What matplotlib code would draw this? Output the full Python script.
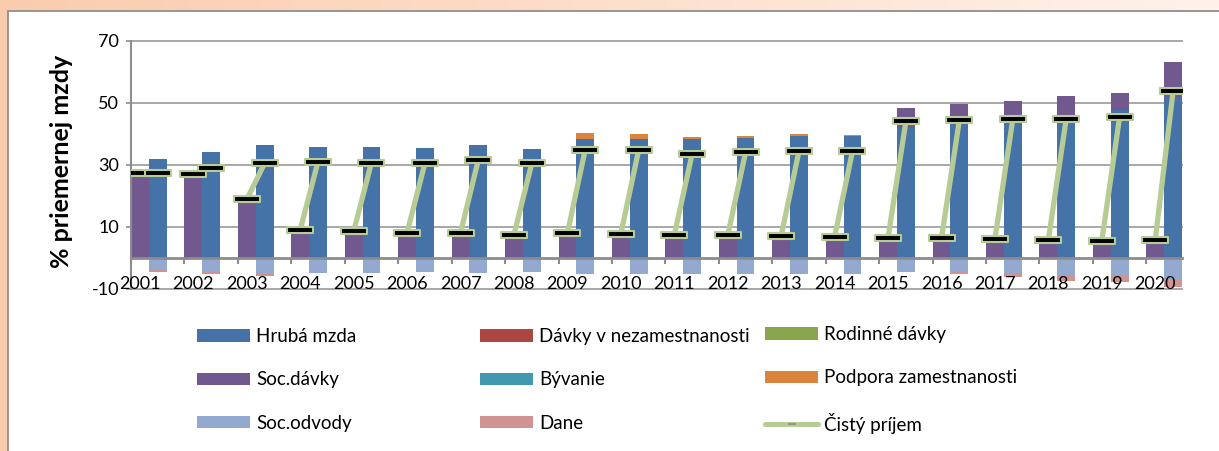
import numpy as np
import matplotlib
matplotlib.use("Agg")
import matplotlib.pyplot as plt
from matplotlib.patches import Rectangle, Patch
from matplotlib.lines import Line2D
from matplotlib.path import Path

plt.rcParams['font.family'] = ['Lato', 'DejaVu Sans']
plt.rcParams['axes.unicode_minus'] = False

# ---------------- data ----------------
years = [str(y) for y in range(2001, 2021)]

# left bar of each year (bez práce)
soc_davky_u = [27.3, 27.1, 18.8, 9.0, 8.5, 8.1, 8.1, 7.4, 7.9, 7.7,
               7.3, 7.2, 7.1, 6.8, 6.5, 6.3, 6.1, 5.8, 5.5, 5.8]
davky_nezam_u = [0.0] * 20
rodinne_u = [0.0] * 20
byvanie_u = [0.0] * 20
cisty_u = [27.3, 27.1, 18.8, 9.0, 8.5, 8.1, 8.1, 7.4, 7.9, 7.7,
           7.3, 7.2, 7.1, 6.8, 6.5, 6.3, 6.1, 5.8, 5.5, 5.8]

# right bar of each year (pracujúci)
hruba_mzda = [31.9, 34.1, 36.2, 35.7, 35.6, 35.3, 36.5, 35.2, 38.2, 38.4,
              38.3, 38.7, 39.2, 39.1, 42.0, 43.5, 44.0, 45.0, 47.5, 52.0]
podpora_zam = [0, 0, 0, 0, 0, 0, 0, 0, 2.0, 1.6,
               0.5, 0.5, 0.6, 0.4, 0, 0, 0, 0, 0, 0]
soc_davky_e = [0, 0, 0, 0, 0, 0, 0, 0, 0, 0,
               0, 0, 0, 0, 6.4, 6.0, 6.7, 7.1, 5.5, 11.0]
davky_nezam_e = [0.0] * 20
rodinne_e = [0.0] * 20
byvanie_e = [0.0] * 20
soc_odvody = [4.1, 4.6, 4.8, 4.8, 4.8, 4.7, 4.8, 4.7, 5.2, 5.2,
              5.2, 5.2, 5.2, 5.2, 4.2, 4.6, 4.8, 5.7, 5.5, 7.0]
dane = [0.5, 0.7, 1.0, 0, 0, 0, 0, 0, 0, 0,
        0, 0, 0, 0, 0.4, 0.8, 1.5, 1.8, 2.4, 2.3]
cisty_e = [27.3, 29.0, 30.5, 31.0, 30.7, 30.5, 31.6, 30.5, 34.9, 34.8,
           33.5, 34.0, 34.4, 34.3, 44.0, 44.3, 44.6, 44.8, 45.5, 53.7]

zeros = [0.0] * 20

# ---------------- styles ----------------
C_HRUBA = '#4572A7'
C_DNEZ = '#AA4643'
C_ROD = '#89A54E'
C_SOC = '#71588F'
C_BYV = '#4198AF'
C_POD = '#DB843D'
C_ODV = '#93A9CF'
C_DANE = '#D19392'
C_NET = '#B7CC94'
GRAY = '#8C8C8C'

W, H = 1219, 451
fig = plt.figure(figsize=(W / 100, H / 100), dpi=100)

# background (peach gradient + white chart panel)
bg = fig.add_axes([0, 0, 1, 1], zorder=-10)
grad = np.linspace(0, 1, 256)
c0 = np.array([0.98, 0.80, 0.68])
c1 = np.array([1.0, 0.95, 0.92])
img = (c0[None, :] * (1 - grad[:, None]) + c1[None, :] * grad[:, None])[None, :, :]
bg.imshow(img, aspect='auto', extent=[0, 1, 0, 1])
bg.set_xlim(0, 1)
bg.set_ylim(0, 1)
bg.axis('off')
bg.add_patch(Rectangle((8 / W, -0.05), 1.0, 1 - 11 / H + 0.05,
                       facecolor='white', edgecolor='#8F8F8F', lw=1.3))

ax = fig.add_axes([131 / W, 1 - 288.7 / H, (1182 - 131) / W, (288.7 - 40.7) / H])
ax.set_facecolor('none')

idx = np.arange(len(years))
bw = 1 / 3
x_u = idx + bw / 2
x_e = idx + 1.5 * bw

pos_series = [
    ('Hrubá mzda', zeros, hruba_mzda, C_HRUBA),
    ('Dávky v nezamestnanosti', davky_nezam_u, davky_nezam_e, C_DNEZ),
    ('Rodinné dávky', rodinne_u, rodinne_e, C_ROD),
    ('Soc.dávky', soc_davky_u, soc_davky_e, C_SOC),
    ('Bývanie', byvanie_u, byvanie_e, C_BYV),
    ('Podpora zamestnanosti', zeros, podpora_zam, C_POD),
]
neg_series = [
    ('Soc.odvody', zeros, soc_odvody, C_ODV),
    ('Dane', zeros, dane, C_DANE),
]

handles = {}
bot_u = np.zeros(20)
bot_e = np.zeros(20)
for name, vu, ve, col in pos_series:
    vu = np.asarray(vu, float)
    ve = np.asarray(ve, float)
    ax.bar(x_u, vu, bw, bottom=bot_u, color=col, linewidth=0, zorder=2)
    ax.bar(x_e, ve, bw, bottom=bot_e, color=col, linewidth=0, zorder=2)
    bot_u += vu
    bot_e += ve
    handles[name] = Patch(facecolor=col, edgecolor='none', label=name)

nb_u = np.zeros(20)
nb_e = np.zeros(20)
for name, vu, ve, col in neg_series:
    vu = -np.asarray(vu, float)
    ve = -np.asarray(ve, float)
    ax.bar(x_u, vu, bw, bottom=nb_u, color=col, linewidth=0, zorder=2)
    ax.bar(x_e, ve, bw, bottom=nb_e, color=col, linewidth=0, zorder=2)
    nb_u += vu
    nb_e += ve
    handles[name] = Patch(facecolor=col, edgecolor='none', label=name)

# net income line: one segment per year (unemployed -> employed)
nan = np.full(20, np.nan)
lx = np.column_stack([x_u, x_e, nan]).ravel()
ly = np.column_stack([cisty_u, cisty_e, nan]).ravel()
rect = Path([(-1, -0.22), (1, -0.22), (1, 0.22), (-1, 0.22), (-1, -0.22)],
            [Path.MOVETO, Path.LINETO, Path.LINETO, Path.LINETO, Path.CLOSEPOLY])
ax.plot(lx, ly, color=C_NET, lw=3.8, solid_capstyle='butt', zorder=4,
        marker=rect, markersize=18.4, markerfacecolor='black',
        markeredgecolor=C_NET, markeredgewidth=1.5)
handles['Čistý príjem'] = Line2D([], [], color=C_NET, lw=3.6, solid_capstyle='round',
                                 marker='_', markersize=6, markeredgecolor='#8a8a8a',
                                 markeredgewidth=1.2, label='Čistý príjem')

# axes
ax.set_xlim(0, 19 + 2 / 3)
ax.set_ylim(-10, 70)
ax.set_yticks([-10, 10, 30, 50, 70])
ax.yaxis.grid(True, color='#A0A0A0', lw=1.3, zorder=0)
for gl in ax.get_ygridlines():
    gl.set_clip_on(False)
ax.set_axisbelow(True)

for s in ('top', 'right'):
    ax.spines[s].set_visible(False)
ax.spines['left'].set_color(GRAY)
ax.spines['left'].set_linewidth(1.5)
ax.spines['bottom'].set_position(('data', 0))
ax.spines['bottom'].set_color(GRAY)
ax.spines['bottom'].set_linewidth(2.0)
ax.spines['bottom'].set_zorder(3)

ax.set_xticks(idx)
ax.set_xticklabels([])
ax.set_xticks(x_u, minor=True)
ax.set_xticklabels(years, minor=True)
ax.tick_params(axis='x', which='major', direction='out', length=4.3, width=1.5, color=GRAY)
ax.tick_params(axis='x', which='minor', length=0, pad=13, labelsize=13)
ax.tick_params(axis='y', direction='out', length=3.6, width=1.2, color=GRAY,
               labelsize=13, pad=5)
ax.xaxis.set_zorder(5)

ax.set_ylabel('% priemernej mzdy', fontsize=18, fontweight='bold', va='center')
ax.yaxis.set_label_coords(-0.0666, 0.515)

# legend: three columns placed like the reference
cols = [
    ['Hrubá mzda', 'Soc.dávky', 'Soc.odvody'],
    ['Dávky v nezamestnanosti', 'Bývanie', 'Dane'],
    ['Rodinné dávky', 'Podpora zamestnanosti', 'Čistý príjem'],
]
col_x = [197, 480, 765]
for names, cx in zip(cols, col_x):
    leg = fig.legend([handles[n] for n in names], names, loc='center left',
                     bbox_to_anchor=(cx / W, 1 - 380 / H), frameon=False,
                     fontsize=13.5, handlelength=2.83, handleheight=0.64,
                     handletextpad=0.32, labelspacing=1.4, borderpad=0,
                     borderaxespad=0)

fig.savefig('out.png', dpi=100, facecolor=fig.get_facecolor())
